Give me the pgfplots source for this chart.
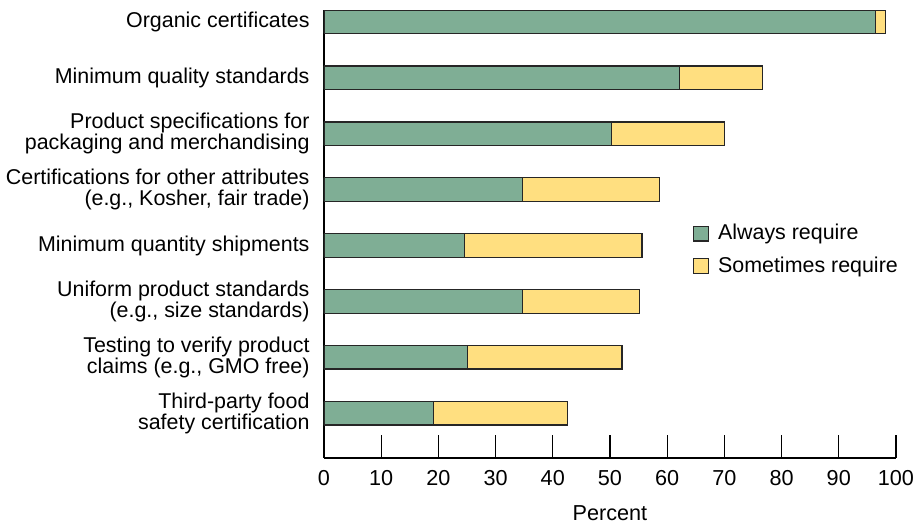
\documentclass[border=0pt]{standalone}
\usepackage{fontspec}
\setmainfont{Liberation Sans}
\usepackage{pgfplots}
\pgfplotsset{compat=1.18}

\definecolor{alwaysgreen}{HTML}{7FAE95}
\definecolor{sometimesyellow}{HTML}{FFDF80}

\begin{document}
\begin{tikzpicture}
\useasboundingbox (-154.3pt,-31.9pt) rectangle (281pt,218.1pt);
\begin{axis}[
    scale only axis,
    width=272.4pt, height=213.3pt,
    at={(0,0)}, anchor=south west,
    xbar stacked,
    bar width=11pt,
    xmin=0, xmax=100,
    ymin=0.205, ymax=8.205,
    axis x line=bottom,
    axis y line=left,
    axis line style={-, line width=0.6pt},
    xtick={0,10,...,100},
    tick align=inside,
    major tick length=11pt,
    xtick style={line width=0.6pt, black},
    ytick={1,...,8},
    ytick style={draw=none},
    yticklabels={
        {Third-party food\\safety certification},
        {Testing to verify product\\claims (e.g., GMO free)},
        {Uniform product standards\\(e.g., size standards)},
        {Minimum quantity shipments},
        {Certifications for other attributes\\(e.g., Kosher, fair trade)},
        {Product specifications for\\packaging and merchandising},
        {Minimum quality standards},
        {Organic certificates}},
    yticklabel style={align=right, inner sep=0pt, xshift=-6.7pt,
        font=\fontsize{10.2}{10.4}\selectfont},
    xticklabel style={font=\fontsize{10.3}{12}\selectfont, yshift=-2.4pt},
    /pgf/number format/assume math mode=true,
    xlabel={Percent},
    xlabel style={font=\fontsize{10.3}{12}\selectfont, yshift=-2.8pt},
    legend cell align=left,
    legend style={at={(rel axis cs:0.645,0.531)}, anchor=north west,
        draw=none, fill=none, inner sep=0pt, row sep=3pt,
        font=\fontsize{10.2}{12}\selectfont,
        nodes={inner sep=1.8pt},
        /tikz/every odd column/.append style={column sep=2.5pt}},
    legend image code/.code={
        \draw[#1, line width=0.5pt] (0pt,-3.5pt) rectangle (7pt,3.5pt);},
]
\addplot[fill=alwaysgreen, draw=black!85, line width=0.5pt] coordinates {
    (19.1,1) (25.1,2) (34.7,3) (24.5,4) (34.7,5) (50.3,6) (62.2,7) (96.5,8)};
\addplot[fill=sometimesyellow, draw=black!85, line width=0.5pt] coordinates {
    (23.4,1) (27.0,2) (20.4,3) (31.1,4) (24.0,5) (19.8,6) (14.5,7) (1.7,8)};
\legend{Always require, Sometimes require}
\end{axis}
\end{tikzpicture}
\end{document}
